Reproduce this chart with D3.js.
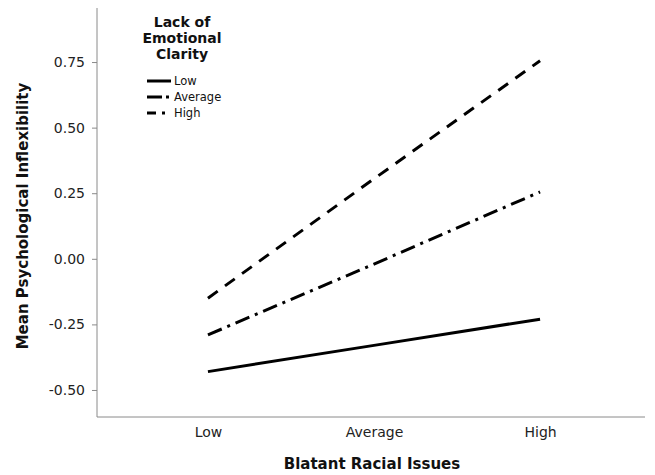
<!DOCTYPE html>
<html>
<head>
<meta charset="utf-8">
<script src="https://cdn.jsdelivr.net/npm/d3@7"></script>
<style>
  body { margin: 0; background: #fff; }
  svg { display: block; font-family: "DejaVu Sans", sans-serif; }
</style>
</head>
<body>
<svg id="chart" width="655" height="475"></svg>
<script>
// x categories (Blatant Racial Issues)
const racialLevels = ["Low", "Average", "High"];
// series: Lack of Emotional Clarity
const clarityLevels = ["Low", "Average", "High"];
const lowValues = [-0.43, -0.33, -0.23];
const averageValues = [-0.29, -0.02, 0.255];
const highValues = [-0.15, 0.305, 0.755];
const yTicks = [-0.50, -0.25, 0.00, 0.25, 0.50, 0.75];

const series = [
    {name: clarityLevels[0], values: lowValues, dash: null, legendDash: null},
    {name: clarityLevels[1], values: averageValues, dash: "15,6,3,6", legendDash: "15,4,3"},
    {name: clarityLevels[2], values: highValues, dash: "12,9", legendDash: "9,6,3"}
];

const svg = d3.select("#chart");
const plotLeft = 97, plotRight = 645, plotTop = 8, plotBottom = 417;

const x = d3.scalePoint().domain(racialLevels).range([plotLeft + 3, plotRight + 3]).padding(0.65);
const y = d3.scaleLinear().domain([-0.603, 0.956]).range([plotBottom, plotTop]);

// SPSS prints a plain hyphen for negatives
const fmt = function(d) { return d3.format(".2f")(d).replace("\u2212", "-"); };

// axes
const yAxis = svg.append("g")
    .attr("transform", "translate(" + plotLeft + ",0)")
    .call(d3.axisLeft(y).tickValues(yTicks).tickSize(5).tickPadding(7).tickFormat(fmt).tickSizeOuter(0));
yAxis.select(".domain").attr("stroke", "#8a8a8a").attr("d", "M0," + plotTop + "V" + plotBottom);
yAxis.selectAll(".tick line").attr("stroke", "#8a8a8a");
yAxis.selectAll(".tick text").attr("font-size", 14).attr("fill", "#222").attr("font-family", "DejaVu Sans");

const xAxis = svg.append("g")
    .attr("transform", "translate(0," + plotBottom + ")")
    .call(d3.axisBottom(x).tickSize(0).tickPadding(10).tickSizeOuter(0));
xAxis.select(".domain").attr("stroke", "#8a8a8a").attr("d", "M" + plotLeft + ",0H" + plotRight);
xAxis.selectAll(".tick text").attr("font-size", 14).attr("fill", "#222").attr("font-family", "DejaVu Sans");

// axis titles
svg.append("text")
    .attr("x", 372).attr("y", 469)
    .attr("text-anchor", "middle")
    .attr("font-size", 15).attr("font-weight", "bold").attr("fill", "#111")
    .text("Blatant Racial Issues");

svg.append("text")
    .attr("transform", "translate(28,216) rotate(-90)")
    .attr("text-anchor", "middle")
    .attr("font-size", 15).attr("font-weight", "bold").attr("fill", "#111")
    .text("Mean Psychological Inflexibility");

// lines
const line = d3.line()
    .x(function(d, i) { return x(racialLevels[i]); })
    .y(function(d) { return y(d); });

svg.append("g").selectAll("path.series").data(series).enter().append("path")
    .attr("class", "series")
    .attr("d", function(d) { return line(d.values); })
    .attr("fill", "none")
    .attr("stroke", "#000")
    .attr("stroke-width", 3)
    .attr("stroke-dasharray", function(d) { return d.dash; });

// legend
const legend = svg.append("g");
["Lack of", "Emotional", "Clarity"].forEach(function(t, i) {
    legend.append("text")
        .attr("x", 182).attr("y", 27 + i * 16)
        .attr("text-anchor", "middle")
        .attr("font-size", 14).attr("font-weight", "bold").attr("fill", "#111")
        .text(t);
});
const items = legend.selectAll("g.item").data(series).enter().append("g")
    .attr("class", "item")
    .attr("transform", function(d, i) { return "translate(147," + (81 + i * 16) + ")"; });
items.append("line")
    .attr("x1", 0).attr("x2", 24)
    .attr("stroke", "#000").attr("stroke-width", 3)
    .attr("stroke-dasharray", function(d) { return d.legendDash; });
items.append("text")
    .attr("x", 27).attr("y", 4)
    .attr("font-size", 11.5).attr("fill", "#111")
    .text(function(d) { return d.name; });
</script>
</body>
</html>
